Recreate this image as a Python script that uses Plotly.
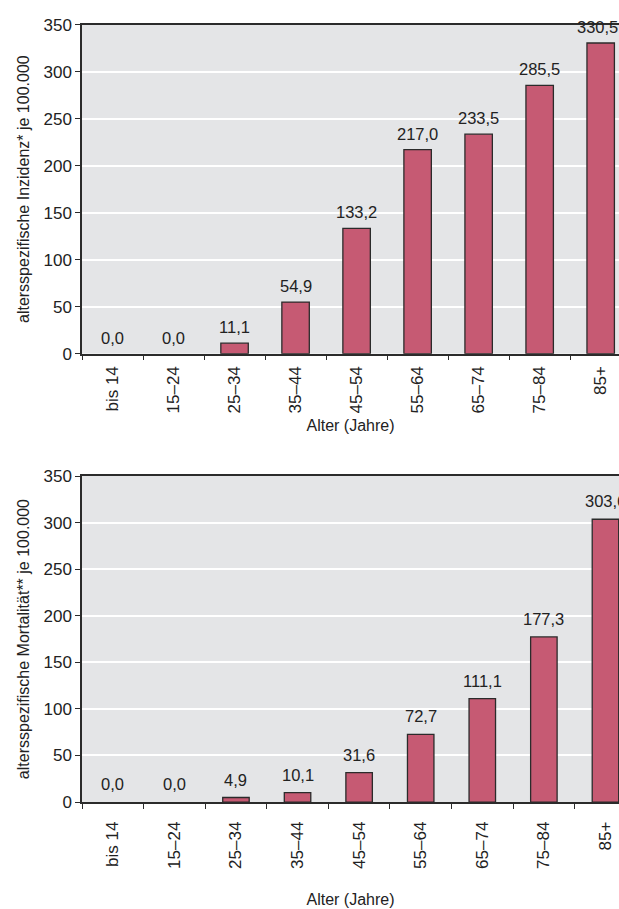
import plotly.graph_objects as go

# Altersgruppen und Raten je 100.000
age_groups = ["bis 14", "15–24", "25–34", "35–44", "45–54", "55–64", "65–74", "75–84", "85+"]
incidence = [0.0, 0.0, 11.1, 54.9, 133.2, 217.0, 233.5, 285.5, 330.5]
mortality = [0.0, 0.0, 4.9, 10.1, 31.6, 72.7, 111.1, 177.3, 303.6]
y_ticks = [0, 50, 100, 150, 200, 250, 300, 350]

FONT = "Liberation Sans, Arial, Helvetica, sans-serif"
BAR_COLOR = "#c65a73"
EDGE = "#2b2b2b"
TEXT = "#222222"
PLOT_BG = "#e4e5e7"
W, H = 619, 909


def de(v):
    return f"{v:.1f}".replace(".", ",")


fig = go.Figure()

# (Werte, x-Achse, y-Achse, Balkenbreite, Abstand Beschriftung, Versatz letzte Beschriftung)
panels = [
    (incidence, "x", "y", 0.45, 6, -3),
    (mortality, "x2", "y2", 0.43, 8, 0),
]
annotations = []
for vals, xa, ya, width, lift, last_shift in panels:
    fig.add_trace(go.Bar(
        x=age_groups, y=vals, xaxis=xa, yaxis=ya, width=width,
        marker=dict(color=BAR_COLOR,
                    line=dict(color=EDGE, width=[1.3 if v > 0 else 0 for v in vals])),
        showlegend=False, hoverinfo="skip",
    ))
    # Wertebeschriftung über jedem Balken
    for i, (cat, v) in enumerate(zip(age_groups, vals)):
        annotations.append(dict(
            x=cat, y=v, xref=xa, yref=ya, text=de(v), showarrow=False,
            yanchor="bottom", yshift=lift, borderpad=0,
            xshift=last_shift if i == len(vals) - 1 else 0,
            font=dict(family=FONT, size=16.5, color=TEXT),
        ))


def px_to_paper_y(top_px, bottom_px):
    return [1 - bottom_px / H, 1 - top_px / H]


def x_axis(anchor, rng, label_gap, title_gap):
    return dict(
        type="category", tickson="boundaries", ticks="outside", ticklen=5, tickwidth=1.3,
        tickcolor=EDGE, showline=True, linecolor=EDGE, linewidth=1.5, mirror=True,
        tickangle=-90, tickfont=dict(family=FONT, size=17, color=TEXT),
        ticklabelstandoff=label_gap,
        showgrid=False, domain=[0, 1], anchor=anchor, range=rng,
        title=dict(text="Alter (Jahre)", font=dict(family=FONT, size=16, color=TEXT),
                   standoff=title_gap),
    )


def y_axis(anchor, top_px, bottom_px, title):
    return dict(
        range=[0, 350], tickvals=y_ticks, ticks="outside", ticklen=5, tickwidth=1.3,
        tickcolor=EDGE, showline=True, linecolor=EDGE, linewidth=1.5, mirror=False,
        showgrid=True, gridcolor="white", gridwidth=1.6, zeroline=False,
        tickfont=dict(family=FONT, size=17, color=TEXT),
        anchor=anchor, domain=px_to_paper_y(top_px, bottom_px),
        title=dict(text=title, font=dict(family=FONT, size=16, color=TEXT), standoff=10),
    )


fig.update_layout(
    width=W, height=H, margin=dict(l=82, r=0, t=0, b=0),
    paper_bgcolor="white", plot_bgcolor=PLOT_BG,
    xaxis=x_axis("y", [-0.5, 8.30], 4, 7),
    xaxis2=x_axis("y2", [-0.5, 8.22], 11, 26),
    yaxis=y_axis("x", 16, 352, "altersspezifische Inzidenz* je 100.000"),
    yaxis2=y_axis("x2", 477, 810, "altersspezifische Mortalität** je 100.000"),
    annotations=annotations,
)

fig.write_html("out.html")
